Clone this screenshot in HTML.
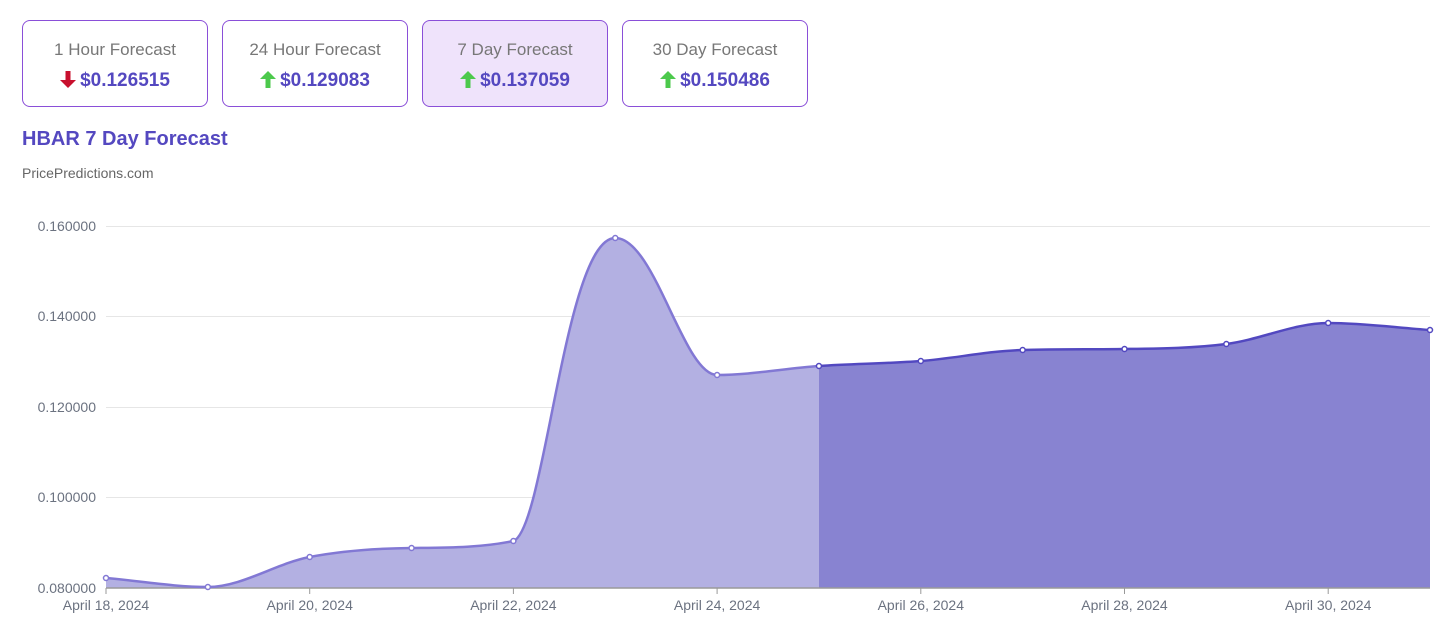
<!DOCTYPE html>
<html><head><meta charset="utf-8"><style>
body{margin:0;width:1454px;height:623px;background:#fff;font-family:"Liberation Sans",sans-serif;position:relative;overflow:hidden}
.card{position:absolute;top:20px;width:186px;height:87px;border:1px solid #8a4fd8;border-radius:8px;box-sizing:border-box;text-align:center;background:#fff}
.card.a{background:#efe3fb}
.t{margin-top:19px;font-size:17px;color:#777}
.v{margin-top:10px;font-size:19px;font-weight:bold;color:#5448c0}
.v svg{vertical-align:-2px;margin-right:4px}
h1{position:absolute;left:22px;top:128px;margin:0;font-size:20px;color:#5448c0}
.sub{position:absolute;left:22px;top:165px;font-size:14px;color:#666}
</style></head><body>
<div class="card" style="left:22px"><div class="t">1 Hour Forecast</div><div class="v"><svg width="16" height="17" viewBox="0 0 16 17"><path d="M5.5,0H10.5V9H16L8,17L0,9H5.5Z" fill="#c8102e"/></svg>$0.126515</div></div>
<div class="card" style="left:222px"><div class="t">24 Hour Forecast</div><div class="v"><svg width="16" height="17" viewBox="0 0 16 17"><path d="M5.5,17H10.5V8H16L8,0L0,8H5.5Z" fill="#4cc94c"/></svg>$0.129083</div></div>
<div class="card a" style="left:422px"><div class="t">7 Day Forecast</div><div class="v"><svg width="16" height="17" viewBox="0 0 16 17"><path d="M5.5,17H10.5V8H16L8,0L0,8H5.5Z" fill="#4cc94c"/></svg>$0.137059</div></div>
<div class="card" style="left:622px"><div class="t">30 Day Forecast</div><div class="v"><svg width="16" height="17" viewBox="0 0 16 17"><path d="M5.5,17H10.5V8H16L8,0L0,8H5.5Z" fill="#4cc94c"/></svg>$0.150486</div></div>
<h1>HBAR 7 Day Forecast</h1>
<div class="sub">PricePredictions.com</div>
<svg width="1454" height="623" style="position:absolute;left:0;top:0" font-family="Liberation Sans, sans-serif">
<g font-size="14" fill="#6b7280" text-anchor="end">
<text x="96" y="231">0.160000</text><text x="96" y="321">0.140000</text><text x="96" y="412">0.120000</text><text x="96" y="502">0.100000</text><text x="96" y="593">0.080000</text>
</g>
<g stroke="#e6e6e6" stroke-width="1">
<line x1="106" y1="226.5" x2="1430" y2="226.5"/><line x1="106" y1="316.5" x2="1430" y2="316.5"/><line x1="106" y1="407.5" x2="1430" y2="407.5"/><line x1="106" y1="497.5" x2="1430" y2="497.5"/>
</g>
<path d="M106,578 C140,581 174,587 207.85,587 C241.8,587 275.75,563.5 309.7,557 C343.65,550.5 377.6,548.37 411.55,548 C445.5,547.63 479.45,548 513.4,541 C545,530 565,238 615.25,238 C655,238 683.15,375 717.1,375 C751.05,375 785,368.33 818.95,366 L818.95,588 L106,588Z" fill="#b3b0e2"/>
<path d="M818.95,366 C852.9,363.67 886.85,363.67 920.8,361 C954.75,358.33 988.7,350.9 1022.65,350 C1056.6,349.1 1090.55,349.45 1124.5,349 C1158.45,348.55 1192.4,348.33 1226.35,344 C1260.3,339.67 1294.25,323 1328.2,323 C1362.15,323 1396.05,327.67 1430,330 L1430,588 L818.95,588Z" fill="#8883d1"/>
<line x1="106" y1="588" x2="1430" y2="588" stroke="#999" stroke-width="1.5"/>
<path d="M106,578 C140,581 174,587 207.85,587 C241.8,587 275.75,563.5 309.7,557 C343.65,550.5 377.6,548.37 411.55,548 C445.5,547.63 479.45,548 513.4,541 C545,530 565,238 615.25,238 C655,238 683.15,375 717.1,375 C751.05,375 785,368.33 818.95,366" fill="none" stroke="#8278d4" stroke-width="2.5"/>
<path d="M818.95,366 C852.9,363.67 886.85,363.67 920.8,361 C954.75,358.33 988.7,350.9 1022.65,350 C1056.6,349.1 1090.55,349.45 1124.5,349 C1158.45,348.55 1192.4,348.33 1226.35,344 C1260.3,339.67 1294.25,323 1328.2,323 C1362.15,323 1396.05,327.67 1430,330" fill="none" stroke="#5248c0" stroke-width="2.5"/>
<g fill="#fff" stroke="#8278d4" stroke-width="1.5">
<circle cx="106" cy="578" r="2.5"/><circle cx="207.85" cy="587" r="2.5"/><circle cx="309.7" cy="557" r="2.5"/><circle cx="411.55" cy="548" r="2.5"/><circle cx="513.4" cy="541" r="2.5"/><circle cx="615.25" cy="238" r="2.5"/><circle cx="717.1" cy="375" r="2.5"/>
</g>
<g fill="#fff" stroke="#5248c0" stroke-width="1.5">
<circle cx="818.95" cy="366" r="2.5"/><circle cx="920.8" cy="361" r="2.5"/><circle cx="1022.65" cy="350" r="2.5"/><circle cx="1124.5" cy="349" r="2.5"/><circle cx="1226.35" cy="344" r="2.5"/><circle cx="1328.2" cy="323" r="2.5"/><circle cx="1430" cy="330" r="2.5"/>
</g>
<g stroke="#999"><line x1="106" y1="588" x2="106" y2="594"/><line x1="309.7" y1="588" x2="309.7" y2="594"/><line x1="513.4" y1="588" x2="513.4" y2="594"/><line x1="717.1" y1="588" x2="717.1" y2="594"/><line x1="920.8" y1="588" x2="920.8" y2="594"/><line x1="1124.5" y1="588" x2="1124.5" y2="594"/><line x1="1328.2" y1="588" x2="1328.2" y2="594"/></g>
<g font-size="14" fill="#6b7280" text-anchor="middle">
<text x="106" y="610">April 18, 2024</text><text x="309.7" y="610">April 20, 2024</text><text x="513.4" y="610">April 22, 2024</text><text x="717.1" y="610">April 24, 2024</text><text x="920.8" y="610">April 26, 2024</text><text x="1124.5" y="610">April 28, 2024</text><text x="1328.2" y="610">April 30, 2024</text>
</g>
</svg>
</body></html>
